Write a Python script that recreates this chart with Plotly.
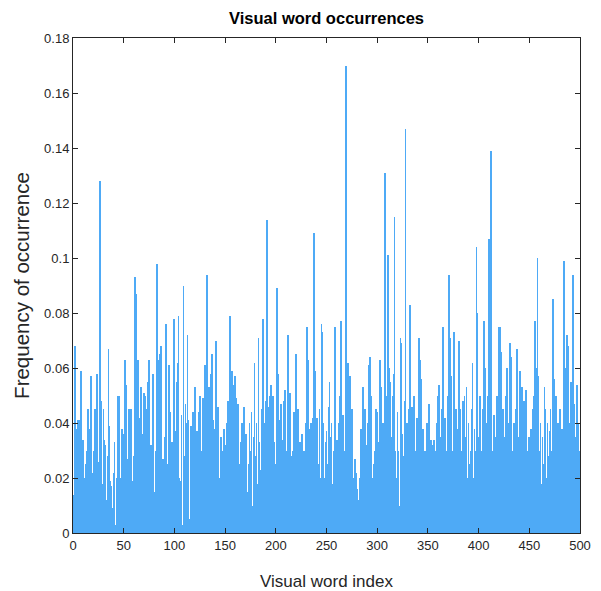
import plotly.graph_objects as go

# Visual word frequencies, indices 1..500 (approximate)
freq_001_050 = [0.014, 0.068, 0.029, 0.038, 0.041, 0.003, 0.041, 0.059, 0.019, 0.034,
                0.011, 0.020, 0.025, 0.030, 0.045, 0.034, 0.038, 0.057, 0.006, 0.022,
                0.030, 0.045, 0.002, 0.058, 0.026, 0.023, 0.128, 0.048, 0.018, 0.045,
                0.034, 0.032, 0.012, 0.028, 0.067, 0.039, 0.019, 0.017, 0.009, 0.022,
                0.033, 0.003, 0.020, 0.050, 0.050, 0.016, 0.020, 0.038, 0.036, 0.010]
freq_051_100 = [0.063, 0.054, 0.009, 0.027, 0.045, 0.004, 0.045, 0.003, 0.019, 0.028,
                0.093, 0.087, 0.028, 0.063, 0.042, 0.019, 0.053, 0.036, 0.025, 0.051,
                0.050, 0.019, 0.045, 0.055, 0.063, 0.024, 0.032, 0.022, 0.058, 0.015,
                0.015, 0.030, 0.098, 0.063, 0.055, 0.065, 0.068, 0.023, 0.027, 0.008,
                0.035, 0.076, 0.006, 0.025, 0.061, 0.044, 0.010, 0.033, 0.021, 0.078]
freq_101_150 = [0.037, 0.055, 0.062, 0.079, 0.020, 0.019, 0.043, 0.003, 0.090, 0.028,
                0.047, 0.040, 0.072, 0.041, 0.005, 0.039, 0.033, 0.044, 0.013, 0.053,
                0.009, 0.037, 0.025, 0.044, 0.050, 0.016, 0.030, 0.049, 0.027, 0.061,
                0.056, 0.094, 0.040, 0.053, 0.050, 0.058, 0.065, 0.041, 0.032, 0.038,
                0.070, 0.030, 0.046, 0.020, 0.003, 0.035, 0.022, 0.030, 0.038, 0.032]
freq_151_200 = [0.015, 0.040, 0.048, 0.034, 0.079, 0.018, 0.059, 0.054, 0.043, 0.057,
                0.049, 0.034, 0.047, 0.025, 0.020, 0.033, 0.040, 0.030, 0.046, 0.028,
                0.036, 0.015, 0.025, 0.040, 0.030, 0.044, 0.010, 0.035, 0.062, 0.028,
                0.040, 0.018, 0.071, 0.033, 0.023, 0.045, 0.078, 0.040, 0.025, 0.048,
                0.114, 0.046, 0.030, 0.050, 0.054, 0.038, 0.050, 0.033, 0.025, 0.012]
freq_201_250 = [0.089, 0.058, 0.041, 0.010, 0.047, 0.025, 0.034, 0.048, 0.052, 0.008,
                0.030, 0.072, 0.040, 0.051, 0.028, 0.014, 0.030, 0.044, 0.004, 0.065,
                0.040, 0.045, 0.010, 0.033, 0.024, 0.036, 0.010, 0.030, 0.020, 0.040,
                0.075, 0.063, 0.038, 0.028, 0.040, 0.020, 0.042, 0.109, 0.059, 0.030,
                0.042, 0.025, 0.045, 0.020, 0.076, 0.073, 0.040, 0.020, 0.033, 0.037]
freq_251_300 = [0.025, 0.046, 0.055, 0.035, 0.040, 0.018, 0.030, 0.075, 0.012, 0.034,
                0.028, 0.040, 0.050, 0.077, 0.015, 0.043, 0.030, 0.018, 0.170, 0.010,
                0.062, 0.035, 0.057, 0.020, 0.045, 0.018, 0.020, 0.027, 0.022, 0.016,
                0.012, 0.008, 0.020, 0.038, 0.006, 0.053, 0.028, 0.045, 0.011, 0.032,
                0.040, 0.061, 0.064, 0.050, 0.020, 0.010, 0.025, 0.030, 0.045, 0.044]
freq_301_350 = [0.015, 0.033, 0.063, 0.053, 0.028, 0.040, 0.012, 0.131, 0.045, 0.050,
                0.101, 0.060, 0.055, 0.035, 0.050, 0.058, 0.115, 0.030, 0.020, 0.044,
                0.030, 0.010, 0.071, 0.069, 0.036, 0.028, 0.048, 0.147, 0.040, 0.025,
                0.045, 0.083, 0.020, 0.046, 0.038, 0.050, 0.012, 0.030, 0.042, 0.025,
                0.071, 0.063, 0.056, 0.025, 0.038, 0.015, 0.030, 0.022, 0.040, 0.018]
freq_351_400 = [0.047, 0.020, 0.034, 0.032, 0.012, 0.034, 0.030, 0.025, 0.040, 0.050,
                0.054, 0.035, 0.020, 0.045, 0.075, 0.015, 0.042, 0.030, 0.008, 0.050,
                0.094, 0.071, 0.057, 0.030, 0.020, 0.073, 0.040, 0.045, 0.010, 0.038,
                0.070, 0.045, 0.025, 0.030, 0.048, 0.050, 0.035, 0.053, 0.020, 0.040,
                0.025, 0.030, 0.045, 0.062, 0.020, 0.038, 0.030, 0.104, 0.080, 0.035]
freq_401_450 = [0.050, 0.012, 0.030, 0.045, 0.077, 0.060, 0.025, 0.040, 0.050, 0.107,
                0.045, 0.139, 0.030, 0.015, 0.043, 0.035, 0.028, 0.050, 0.040, 0.075,
                0.075, 0.066, 0.030, 0.045, 0.035, 0.020, 0.050, 0.060, 0.025, 0.040,
                0.069, 0.064, 0.030, 0.015, 0.040, 0.038, 0.045, 0.067, 0.020, 0.035,
                0.059, 0.045, 0.053, 0.025, 0.048, 0.030, 0.052, 0.010, 0.030, 0.035]
freq_451_500 = [0.025, 0.038, 0.020, 0.045, 0.050, 0.077, 0.060, 0.100, 0.057, 0.030,
                0.040, 0.018, 0.035, 0.025, 0.053, 0.045, 0.020, 0.040, 0.028, 0.037,
                0.045, 0.030, 0.085, 0.056, 0.035, 0.050, 0.020, 0.040, 0.015, 0.045,
                0.030, 0.038, 0.025, 0.099, 0.060, 0.035, 0.072, 0.068, 0.040, 0.025,
                0.055, 0.030, 0.094, 0.047, 0.035, 0.020, 0.054, 0.040, 0.015, 0.030]

frequencies = (freq_001_050 + freq_051_100 + freq_101_150 + freq_151_200 + freq_201_250
               + freq_251_300 + freq_301_350 + freq_351_400 + freq_401_450 + freq_451_500)
word_index = list(range(1, len(frequencies) + 1))

x_ticks = [0, 50, 100, 150, 200, 250, 300, 350, 400, 450, 500]
y_ticks = [0, 0.02, 0.04, 0.06, 0.08, 0.1, 0.12, 0.14, 0.16, 0.18]
y_tick_labels = ["0", "0.02", "0.04", "0.06", "0.08", "0.1", "0.12", "0.14", "0.16", "0.18"]

axis_color = "#262626"
font_family = "Liberation Sans, Arial, sans-serif"

fig = go.Figure(go.Bar(
    x=word_index, y=frequencies, width=0.8,
    marker=dict(color="#4eaaf6", line=dict(width=0)),
))

fig.update_layout(
    width=585, height=583,
    margin=dict(l=65, r=13, t=30, b=58, autoexpand=False),
    paper_bgcolor="white", plot_bgcolor="white",
    showlegend=False, bargap=0,
    title=dict(text="<b>Visual word occurrences</b>", xref="paper", x=0.5, xanchor="center",
               y=1 - 10 / 583, yanchor="middle",
               font=dict(family=font_family, size=16.5, color="#000000")),
    font=dict(family=font_family, size=13, color=axis_color),
)
fig.update_xaxes(
    range=[0, 500], tickmode="array", tickvals=x_ticks, automargin=False,
    ticks="inside", ticklen=5, tickcolor=axis_color, tickwidth=1,
    showline=True, linecolor=axis_color, linewidth=1, mirror="ticks",
    showgrid=False, zeroline=False,
    tickfont=dict(size=13, color=axis_color),
    title=dict(text="Visual word index", font=dict(size=17, color=axis_color), standoff=25),
)
fig.update_yaxes(
    range=[0, 0.18], tickmode="array", tickvals=y_ticks, ticktext=y_tick_labels, automargin=False,
    ticks="inside", ticklen=5, tickcolor=axis_color, tickwidth=1,
    showline=True, linecolor=axis_color, linewidth=1, mirror="ticks",
    showgrid=False, zeroline=False,
    tickfont=dict(size=13, color=axis_color),
    title=dict(text="Frequency of occurrence", font=dict(size=20.5, color=axis_color), standoff=8),
)

fig.write_html("out.html")
